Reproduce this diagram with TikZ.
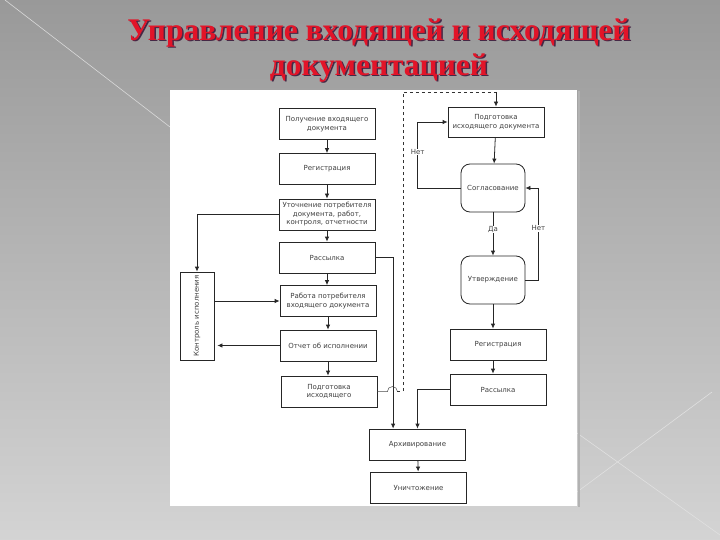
\documentclass[tikz,border=0pt]{standalone}
\usepackage{fontspec}
\setmainfont{Liberation Serif}
\newfontfamily\boxfont{DejaVu Sans}
\newfontfamily\titlefont{Liberation Serif}
\usetikzlibrary{calc,arrows.meta}

\definecolor{titlered}{RGB}{226,20,40}
\definecolor{titleshade}{RGB}{70,40,70}

\begin{document}
\begin{tikzpicture}[x=1pt, y=-1pt, font=\boxfont\fontsize{7}{8.5}\selectfont,
  blk/.style={rectangle, draw=black!85, line width=0.8pt, fill=white, text=black!75,
    minimum width=96pt, minimum height=31pt, inner sep=1pt, align=center},
  rnd/.style={blk, rounded corners=9pt, minimum width=64pt, minimum height=48pt},
  arr/.style={-{Latex[length=5pt,width=4.5pt]}, line width=0.8pt, draw=black!85},
  lbl/.style={fill=white, inner sep=0.5pt, text=black!75},
  ttl/.style={font=\titlefont\bfseries\fontsize{31.5}{36}\selectfont}]
\useasboundingbox (0,0) rectangle (720,540);

% slide background
\shade[top color=black!40, bottom color=black!17] (0,0) rectangle (720,540);
\draw[white!85!black, line width=0.6pt] (5,0) -- (170,127);
\draw[white!88!black, line width=0.6pt] (577,433) -- (720,535);
\draw[white!88!black, line width=0.6pt] (577,492) -- (712,392);

% title
\node (titleshade1) [ttl, text=titleshade] at (380.5,34.5) {Управление входящей и исходящей};
\node (title1) [ttl, text=titlered] at (379,33) {Управление входящей и исходящей};
\node (titleshade2) [ttl, text=titleshade] at (380.5,69.5) {документацией};
\node (title2) [ttl, text=titlered] at (379,68) {документацией};

% sheet
\fill[black!30] (578,91) rectangle (580,507);
\fill[white] (170,90) rectangle (577,506);

\coordinate (recv) at (327,124);
\coordinate (reg1) at ($(recv) + (0,45)$);
\coordinate (spec) at ($(reg1) + (0,45.5)$);
\coordinate (dist1) at ($(spec) + (0,43)$);
\coordinate (work) at ($(dist1) + (1,43.5)$);
\coordinate (rep) at ($(work) + (0,44.5)$);
\coordinate (prep1) at ($(rep) + (1,46)$);
\coordinate (ctrl) at (197,316);

\coordinate (prep2) at (496,122);
\coordinate (agree) at ($(prep2) + (-3,66)$);
\coordinate (appr) at ($(agree) + (0,92)$);
\coordinate (reg2) at ($(prep2) + (2,222.5)$);
\coordinate (dist2) at ($(reg2) + (0,45)$);
\coordinate (arch) at (417.5,444.5);
\coordinate (destr) at ($(arch) + (1,43)$);

\node (nrecv) [blk] at (recv) {Получение входящего\\документа};
\node (nreg1) [blk] at (reg1) {Регистрация};
\node (nspec) [blk] at (spec) {Уточнение потребителя\\документа, работ,\\контроля, отчетности};
\node (ndist1) [blk] at (dist1) {Рассылка};
\node (nwork) [blk] at (work) {Работа потребителя\\входящего документа};
\node (nrep) [blk] at (rep) {Отчет об исполнении};
\node (nprep1) [blk] at (prep1) {Подготовка\\исходящего};
\node (nctrl) [blk, rotate=90, minimum width=88pt, minimum height=34pt] at (ctrl) {Контроль исполнения};

\node (nprep2) [blk, minimum height=30pt] at (prep2) {Подготовка\\исходящего документа};
\node (nagree) [rnd] at (agree) {Согласование};
\node (nappr) [rnd] at (appr) {Утверждение};
\node (nreg2) [blk] at (reg2) {Регистрация};
\node (ndist2) [blk] at (dist2) {Рассылка};
\node (narch) [blk] at (arch) {Архивирование};
\node (ndestr) [blk] at (destr) {Уничтожение};

% incoming documents
\draw[arr] (nrecv) -- (nreg1);
\draw[arr] (nreg1) -- (nspec);
\draw[arr] (nspec) -- (ndist1);
\draw[arr] (ndist1.south) -- (ndist1.south |- nwork.north);
\draw[arr] (nwork.south) -- (nwork.south |- nrep.north);
\draw[arr] (nrep.south) -- (nrep.south |- nprep1.north);

\draw[arr] (nspec.west) -| (nctrl.east);
\draw[arr] (nctrl.south |- nwork.west) -- (nwork.west);
\draw[arr] (nrep.west) -- ($(nrep.west -| nctrl.south) + (3,0)$);

\draw[arr] (ndist1.east) -| ($(narch.north west) + (24,0)$);

% outgoing documents
\draw[line width=0.5pt, black!70] (nprep1.east) -- ++(10,0) arc[start angle=180, end angle=0, radius=5pt] coordinate (hop);
\draw[line width=0.6pt, black!80, dashed] (hop) -- (403,391.5) -- (403,92) -- (496,92) coordinate (turn);
\draw[arr] (turn) -- (nprep2.north);

\draw[arr] (nprep2) -- (nagree);
\draw[arr] (nagree.west) -| node[lbl, pos=0.77] {Нет} ($(nprep2.west) + (-30,0)$) -- (nprep2.west);
\draw[arr] (nagree) -- node[lbl, pos=0.4] {Да} (nappr);
\draw[arr] (nappr.east) -| node[lbl, pos=0.78] {Нет} ($(nagree.east) + (13,0)$) -- (nagree.east);
\draw[arr] (nappr.south) -- (nappr.south |- nreg2.north);
\draw[arr] (nreg2.south -| nappr.south) -- (nappr.south |- ndist2.north);

\draw[arr] (ndist2.west) -| (narch.north);
\draw[arr] (narch) -- (ndestr);

\end{tikzpicture}
\end{document}
